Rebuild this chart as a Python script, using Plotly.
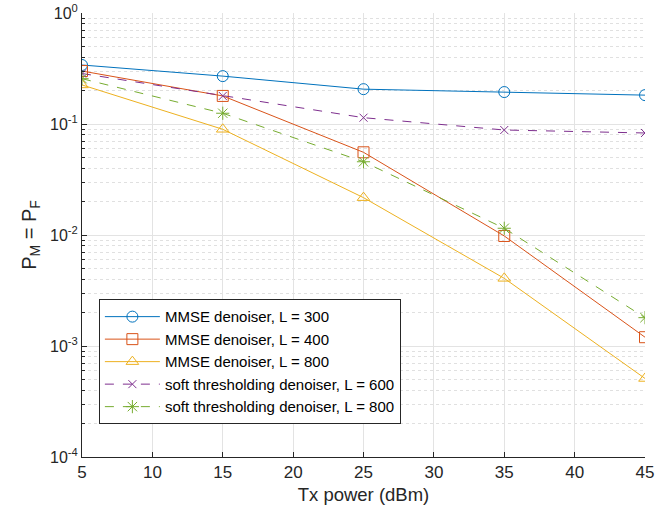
import plotly.graph_objects as go

tx_power = [5, 15, 25, 35, 45]
mmse_300 = [0.34, 0.27, 0.206, 0.194, 0.182]
mmse_400 = [0.30, 0.179, 0.0556, 0.0098, 0.0012]
mmse_800 = [0.225, 0.0896, 0.0217, 0.00407, 0.00051]
soft_600 = [0.285, 0.179, 0.114, 0.0883, 0.083]
soft_800 = [0.256, 0.125, 0.0457, 0.0115, 0.0018]

names = ["MMSE denoiser, L = 300", "MMSE denoiser, L = 400", "MMSE denoiser, L = 800",
         "soft thresholding denoiser, L = 600", "soft thresholding denoiser, L = 800"]
colors = ["#0072BD", "#D95319", "#EDB120", "#7E2F8E", "#77AC30"]
symbols = ["circle-open", "square-open", "triangle-up-open", "x-thin-open", "asterisk-open"]
dashes = ["solid", "solid", "solid", "dash", "dash"]
series = [mmse_300, mmse_400, mmse_800, soft_600, soft_800]

x_ticks = [5, 10, 15, 20, 25, 30, 35, 40, 45]
y_tickvals = [1e-4, 1e-3, 1e-2, 1e-1, 1]
y_ticktext = ["10<sup>-4</sup>", "10<sup>-3</sup>", "10<sup>-2</sup>", "10<sup>-1</sup>", "10<sup>0</sup>"]
y_minor = [m * 10.0 ** e for e in range(-4, 0) for m in range(2, 10)]

fig = go.Figure()
for name, c, s, d, y in zip(names, colors, symbols, dashes, series):
    fig.add_trace(go.Scatter(
        x=tx_power, y=y, name=name, mode="lines+markers",
        line=dict(color=c, width=1, dash=d),
        marker=dict(symbol=s, size=11 if "x" not in s else 8, color=c, line=dict(color=c, width=1)),
    ))

fig.update_layout(
    width=663, height=511,
    margin=dict(l=82, r=18, t=13, b=54),
    paper_bgcolor="white", plot_bgcolor="white",
    font=dict(family="Liberation Sans, Arial, sans-serif", color="#262626"),
    showlegend=True,
    legend=dict(
        x=0.03, y=0.355, xanchor="left", yanchor="top",
        bgcolor="white", bordercolor="#262626", borderwidth=1,
        font=dict(size=15, color="black"), tracegroupgap=0, itemwidth=55,
    ),
)
fig.update_xaxes(
    range=[5, 45], tickvals=x_ticks, ticks="inside", ticklen=5, tickcolor="#262626",
    showline=True, linecolor="#262626", linewidth=1, mirror=False, automargin=False,
    showgrid=True, gridcolor="#e3e3e3", gridwidth=1, zeroline=False,
    tickfont=dict(size=17), title=dict(text="Tx power (dBm)", font=dict(size=18.5), standoff=6),
)
fig.update_yaxes(
    type="log", range=[-4, 0], tickvals=y_tickvals, ticktext=y_ticktext,
    ticks="inside", ticklen=5, tickcolor="#262626", automargin=False,
    showline=True, linecolor="#262626", linewidth=1, mirror=False,
    showgrid=True, gridcolor="#e3e3e3", gridwidth=1, zeroline=False,
    minor=dict(tickvals=y_minor, ticks="inside", ticklen=3, tickcolor="#262626",
               showgrid=True, gridcolor="#e0e0e0", griddash="dot", gridwidth=1),
    tickfont=dict(size=16),
    title=dict(text="P<sub>M</sub> = P<sub>F</sub>", font=dict(size=20), standoff=8),
)

fig.write_html("out.html")
